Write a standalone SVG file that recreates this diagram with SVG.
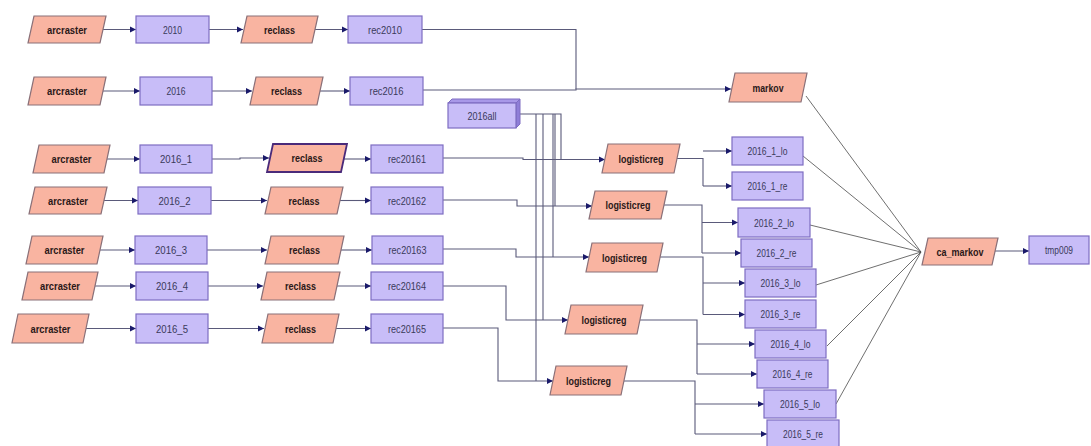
<svg xmlns="http://www.w3.org/2000/svg" width="1091" height="446" viewBox="0 0 1091 446">
<defs>
<style>
.tool{fill:#F9B4A1;stroke:#8A7078;stroke-width:1.2}
.sel{fill:#F9B4A1;stroke:#4A2A7A;stroke-width:1.8}
.data{fill:#C8BDF8;stroke:#7E6DC2;stroke-width:1.2}
.top3d{fill:#A898E8;stroke:#7E6DC2;stroke-width:1}
.side3d{fill:#8F7ED8;stroke:#7E6DC2;stroke-width:1}
.tl{font-family:"Liberation Sans",Arial,sans-serif;font-weight:bold;font-size:10.5px;fill:#2A1818;text-anchor:middle;dominant-baseline:central}
.dl{font-family:"Liberation Sans",Arial,sans-serif;font-size:10.5px;fill:#3A3A5A;text-anchor:middle;dominant-baseline:central}
.c{fill:none;stroke:#5A5A7A;stroke-width:1.1}
.ca{fill:none;stroke:#5A5A7A;stroke-width:1.1;marker-end:url(#ah)}
.t{fill:none;stroke:#4A4A4A;stroke-width:0.8}
</style>
<marker id="ah" markerUnits="userSpaceOnUse" markerWidth="7" markerHeight="7" refX="6" refY="3.5" orient="auto">
<path d="M0,0.5 L6,3.5 L0,6.5 z" fill="#1A1A6A"/>
</marker>
</defs>
<rect width="1091" height="446" fill="#FFFFFF"/>

<g id="connectors">
<path class="ca" d="M103,29.5 H136"/>
<path class="ca" d="M209,29.5 H243"/>
<path class="ca" d="M315,29.5 H348"/>
<path class="ca" d="M103,91 H140"/>
<path class="ca" d="M212,91 H252"/>
<path class="ca" d="M320,91 H350"/>
<path class="ca" d="M107,159 H140"/>
<path class="ca" d="M212,159 H240 V158 H269"/>
<path class="ca" d="M344,159 H371"/>
<path class="ca" d="M104,200.5 H138"/>
<path class="ca" d="M211,200.5 H267"/>
<path class="ca" d="M340,200.5 H371"/>
<path class="ca" d="M100,250 H135"/>
<path class="ca" d="M207,250 H267"/>
<path class="ca" d="M341,250 H372"/>
<path class="ca" d="M95,286 H136"/>
<path class="ca" d="M208,286 H263"/>
<path class="ca" d="M337,286 H371"/>
<path class="ca" d="M86,328.5 H136"/>
<path class="ca" d="M208,328.5 H264"/>
<path class="ca" d="M336,328.5 H371"/>
<path class="c" d="M422,29.5 H576 V89"/>
<path class="ca" d="M423,90 H576 V89 H731"/>
<path class="ca" d="M443,158 H523 V159.5 H605"/>
<path class="ca" d="M443,200 H517 V206 H592"/>
<path class="ca" d="M443,249 H516 V257 H589"/>
<path class="ca" d="M443,286 H506 V320 H568"/>
<path class="ca" d="M443,328 H498 V381 H553"/>
<path class="c" d="M519,114 H561 V159.5"/>
<path class="c" d="M555,114 V206"/>
<path class="c" d="M553,114 V257"/>
<path class="c" d="M543,114 V320"/>
<path class="c" d="M536,114 V381"/>
<path class="c" d="M677,158.5 H703 V186"/>
<path class="ca" d="M703,151 H732"/>
<path class="ca" d="M703,186 H732"/>
<path class="c" d="M664,205 H702 V253"/>
<path class="ca" d="M702,222.5 H738"/>
<path class="ca" d="M702,253 H741"/>
<path class="c" d="M660,257 H703 V314.5"/>
<path class="ca" d="M703,283 H745"/>
<path class="ca" d="M703,314.5 H745"/>
<path class="c" d="M640,320 H697 V374"/>
<path class="ca" d="M697,344 H755"/>
<path class="ca" d="M697,374 H757"/>
<path class="c" d="M624,381 H695 V434"/>
<path class="ca" d="M695,404 H764"/>
<path class="ca" d="M695,434 H767"/>
<path class="t" d="M806,96 L921,252"/>
<path class="t" d="M803,156 L921,252"/>
<path class="t" d="M810,225 L921,252"/>
<path class="t" d="M816,285 L921,252"/>
<path class="t" d="M827,346 L921,252"/>
<path class="t" d="M836,404 L921,252"/>
<path class="ca" d="M994,251 H1029"/>
</g>

<g id="arcraster1"><polygon class="tool" points="34,16 106,16 100,43 28,43"/><text class="tl" x="67" y="29.5" textLength="40" lengthAdjust="spacingAndGlyphs">arcraster</text></g>
<g id="d2010"><rect class="data" x="136" y="16" width="73" height="27"/><text class="dl" x="172.5" y="29.5" textLength="19" lengthAdjust="spacingAndGlyphs">2010</text></g>
<g id="reclass1"><polygon class="tool" points="247,16 318,16 312,43 241,43"/><text class="tl" x="279.5" y="29.5" textLength="31" lengthAdjust="spacingAndGlyphs">reclass</text></g>
<g id="rec2010"><rect class="data" x="348" y="16" width="74" height="27"/><text class="dl" x="385" y="29.5" textLength="34" lengthAdjust="spacingAndGlyphs">rec2010</text></g>

<g id="arcraster2"><polygon class="tool" points="34,77 106,77 100,105 28,105"/><text class="tl" x="67" y="91" textLength="40" lengthAdjust="spacingAndGlyphs">arcraster</text></g>
<g id="d2016"><rect class="data" x="140" y="77" width="72" height="28"/><text class="dl" x="176" y="91" textLength="19" lengthAdjust="spacingAndGlyphs">2016</text></g>
<g id="reclass2"><polygon class="tool" points="256,77 323,77 317,105 250,105"/><text class="tl" x="286.5" y="91" textLength="31" lengthAdjust="spacingAndGlyphs">reclass</text></g>
<g id="rec2016"><rect class="data" x="350" y="77" width="73" height="28"/><text class="dl" x="386.5" y="91" textLength="34" lengthAdjust="spacingAndGlyphs">rec2016</text></g>

<g id="arcraster3"><polygon class="tool" points="39,145 110,145 104,173 33,173"/><text class="tl" x="71.5" y="159" textLength="40" lengthAdjust="spacingAndGlyphs">arcraster</text></g>
<g id="d2016_1"><rect class="data" x="140" y="145" width="72" height="28"/><text class="dl" x="176" y="159" textLength="32" lengthAdjust="spacingAndGlyphs">2016_1</text></g>
<g id="reclass3"><polygon class="sel" points="273,144 347,144 341,172 267,172"/><text class="tl" x="307" y="158" textLength="31" lengthAdjust="spacingAndGlyphs">reclass</text></g>
<g id="rec20161"><rect class="data" x="371" y="145" width="72" height="28"/><text class="dl" x="407" y="159" textLength="38" lengthAdjust="spacingAndGlyphs">rec20161</text></g>

<g id="arcraster4"><polygon class="tool" points="35,187 107,187 101,214 29,214"/><text class="tl" x="68" y="200.5" textLength="40" lengthAdjust="spacingAndGlyphs">arcraster</text></g>
<g id="d2016_2"><rect class="data" x="138" y="187" width="73" height="27"/><text class="dl" x="174.5" y="200.5" textLength="32" lengthAdjust="spacingAndGlyphs">2016_2</text></g>
<g id="reclass4"><polygon class="tool" points="271,187 343,187 337,214 265,214"/><text class="tl" x="304" y="200.5" textLength="31" lengthAdjust="spacingAndGlyphs">reclass</text></g>
<g id="rec20162"><rect class="data" x="371" y="187" width="72" height="27"/><text class="dl" x="407" y="200.5" textLength="38" lengthAdjust="spacingAndGlyphs">rec20162</text></g>

<g id="arcraster5"><polygon class="tool" points="32,236 103,236 97,264 26,264"/><text class="tl" x="64.5" y="250" textLength="40" lengthAdjust="spacingAndGlyphs">arcraster</text></g>
<g id="d2016_3"><rect class="data" x="135" y="236" width="72" height="28"/><text class="dl" x="171" y="250" textLength="32" lengthAdjust="spacingAndGlyphs">2016_3</text></g>
<g id="reclass5"><polygon class="tool" points="271,236 344,236 338,264 265,264"/><text class="tl" x="304.5" y="250" textLength="31" lengthAdjust="spacingAndGlyphs">reclass</text></g>
<g id="rec20163"><rect class="data" x="372" y="236" width="71" height="28"/><text class="dl" x="407.5" y="250" textLength="38" lengthAdjust="spacingAndGlyphs">rec20163</text></g>

<g id="arcraster6"><polygon class="tool" points="28,272 98,272 92,300 22,300"/><text class="tl" x="60" y="286" textLength="40" lengthAdjust="spacingAndGlyphs">arcraster</text></g>
<g id="d2016_4"><rect class="data" x="136" y="272" width="72" height="28"/><text class="dl" x="172" y="286" textLength="32" lengthAdjust="spacingAndGlyphs">2016_4</text></g>
<g id="reclass6"><polygon class="tool" points="267,272 340,272 334,300 261,300"/><text class="tl" x="300.5" y="286" textLength="31" lengthAdjust="spacingAndGlyphs">reclass</text></g>
<g id="rec20164"><rect class="data" x="371" y="272" width="72" height="28"/><text class="dl" x="407" y="286" textLength="38" lengthAdjust="spacingAndGlyphs">rec20164</text></g>

<g id="arcraster7"><polygon class="tool" points="18,314 89,314 83,343 12,343"/><text class="tl" x="50.5" y="328.5" textLength="40" lengthAdjust="spacingAndGlyphs">arcraster</text></g>
<g id="d2016_5"><rect class="data" x="136" y="314" width="72" height="29"/><text class="dl" x="172" y="328.5" textLength="32" lengthAdjust="spacingAndGlyphs">2016_5</text></g>
<g id="reclass7"><polygon class="tool" points="268,314 339,314 333,343 262,343"/><text class="tl" x="300.5" y="328.5" textLength="31" lengthAdjust="spacingAndGlyphs">reclass</text></g>
<g id="rec20165"><rect class="data" x="371" y="314" width="72" height="29"/><text class="dl" x="407" y="328.5" textLength="38" lengthAdjust="spacingAndGlyphs">rec20165</text></g>

<g id="d2016all">
<polygon class="top3d" points="448,103 452,99 520,99 516,103"/>
<polygon class="side3d" points="516,103 520,99 520,124 516,128"/>
<rect class="data" x="448" y="103" width="68" height="25"/>
<text class="dl" x="482" y="115.5" textLength="29" lengthAdjust="spacingAndGlyphs">2016all</text>
</g>

<g id="markov"><polygon class="tool" points="735,73 807,73 801,102 729,102"/><text class="tl" x="768" y="87.5" textLength="31" lengthAdjust="spacingAndGlyphs">markov</text></g>

<g id="logreg1"><polygon class="tool" points="608,144 680,144 674,173 602,173"/><text class="tl" x="641" y="158.5" textLength="45" lengthAdjust="spacingAndGlyphs">logisticreg</text></g>
<g id="logreg2"><polygon class="tool" points="595,191 667,191 661,219 589,219"/><text class="tl" x="628" y="205" textLength="45" lengthAdjust="spacingAndGlyphs">logisticreg</text></g>
<g id="logreg3"><polygon class="tool" points="592,243 663,243 657,272 586,272"/><text class="tl" x="624.5" y="257.5" textLength="45" lengthAdjust="spacingAndGlyphs">logisticreg</text></g>
<g id="logreg4"><polygon class="tool" points="571,305 643,305 637,334 565,334"/><text class="tl" x="604" y="319.5" textLength="45" lengthAdjust="spacingAndGlyphs">logisticreg</text></g>
<g id="logreg5"><polygon class="tool" points="556,366 627,366 621,395 550,395"/><text class="tl" x="588.5" y="380.5" textLength="45" lengthAdjust="spacingAndGlyphs">logisticreg</text></g>

<g id="o1lo"><rect class="data" x="732" y="137" width="71" height="28"/><text class="dl" x="767.5" y="151" textLength="40" lengthAdjust="spacingAndGlyphs">2016_1_lo</text></g>
<g id="o1re"><rect class="data" x="732" y="172" width="71" height="28"/><text class="dl" x="767.5" y="186" textLength="40" lengthAdjust="spacingAndGlyphs">2016_1_re</text></g>
<g id="o2lo"><rect class="data" x="738" y="208" width="72" height="29"/><text class="dl" x="774" y="222.5" textLength="40" lengthAdjust="spacingAndGlyphs">2016_2_lo</text></g>
<g id="o2re"><rect class="data" x="741" y="239" width="71" height="28"/><text class="dl" x="776.5" y="253" textLength="40" lengthAdjust="spacingAndGlyphs">2016_2_re</text></g>
<g id="o3lo"><rect class="data" x="745" y="269" width="71" height="28"/><text class="dl" x="780.5" y="283" textLength="40" lengthAdjust="spacingAndGlyphs">2016_3_lo</text></g>
<g id="o3re"><rect class="data" x="745" y="300" width="71" height="28"/><text class="dl" x="780.5" y="314" textLength="40" lengthAdjust="spacingAndGlyphs">2016_3_re</text></g>
<g id="o4lo"><rect class="data" x="755" y="330" width="71" height="28"/><text class="dl" x="790.5" y="344" textLength="40" lengthAdjust="spacingAndGlyphs">2016_4_lo</text></g>
<g id="o4re"><rect class="data" x="757" y="360" width="71" height="28"/><text class="dl" x="792.5" y="374" textLength="40" lengthAdjust="spacingAndGlyphs">2016_4_re</text></g>
<g id="o5lo"><rect class="data" x="764" y="390" width="72" height="28"/><text class="dl" x="800" y="404" textLength="40" lengthAdjust="spacingAndGlyphs">2016_5_lo</text></g>
<g id="o5re"><rect class="data" x="767" y="420" width="72" height="27"/><text class="dl" x="803" y="434" textLength="40" lengthAdjust="spacingAndGlyphs">2016_5_re</text></g>

<g id="ca_markov"><polygon class="tool" points="928,238 998,238 992,265 922,265"/><text class="tl" x="960" y="251.5" textLength="47" lengthAdjust="spacingAndGlyphs">ca_markov</text></g>
<g id="tmp009"><rect class="data" x="1029" y="236" width="60" height="28"/><text class="dl" x="1059" y="250" textLength="28" lengthAdjust="spacingAndGlyphs">tmp009</text></g>
</svg>
